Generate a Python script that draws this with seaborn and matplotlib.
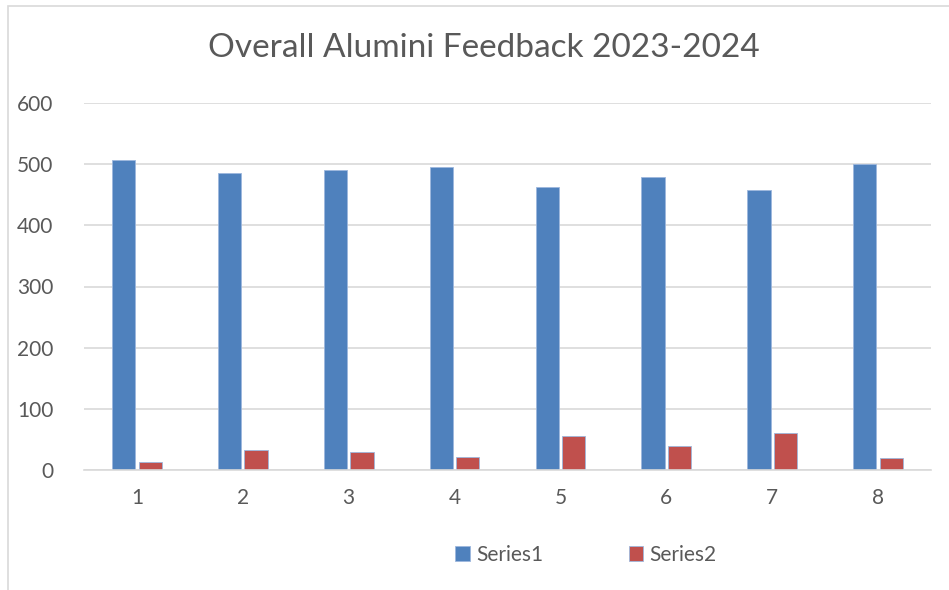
import pandas as pd
import matplotlib.pyplot as plt
import seaborn as sns
from matplotlib.patches import Rectangle

# values
categories = ["1", "2", "3", "4", "5", "6", "7", "8"]
series1 = [506, 486, 490, 496, 463, 479, 458, 500]
series2 = [13, 32, 29, 22, 56, 39, 60, 19]
series_names = ["Series1", "Series2"]
y_ticks = [0, 100, 200, 300, 400, 500, 600]

data_frame = pd.DataFrame({
    "category": categories * 2,
    "value": series1 + series2,
    "series": [series_names[0]] * len(categories) + [series_names[1]] * len(categories),
})

sns.set_style("white")
plt.rcParams["font.family"] = ["Lato", "DejaVu Sans"]
text_grey = "#595959"

fig = plt.figure(figsize=(9.49, 5.9), dpi=100)
ax = fig.add_axes([84 / 949, 120 / 590, 847 / 949, 367 / 590])

sns.barplot(data=data_frame, x="category", y="value", hue="series",
            palette=["#4F81BD", "#C0504D"], saturation=1, width=0.5, gap=0.12,
            edgecolor="#9DB7DD", linewidth=0.6, ax=ax, legend=True)

ax.set_ylim(0, 600)
ax.set_yticks(y_ticks)
ax.yaxis.grid(True, color="#D9D9D9", linewidth=1.2)
ax.set_axisbelow(True)
for side in ["top", "right", "left"]:
    ax.spines[side].set_visible(False)
ax.spines["bottom"].set_color("#D9D9D9")
ax.spines["bottom"].set_linewidth(1.2)
ax.tick_params(axis="both", length=0, labelsize=15, labelcolor=text_grey)
ax.tick_params(axis="y", pad=22)
ax.tick_params(axis="x", pad=13)
ax.set_xlabel("")
ax.set_ylabel("")

fig.text(484 / 949, 1 - 48 / 590, "Overall Alumini Feedback 2023-2024",
         ha="center", va="center", fontsize=24, color=text_grey)

handles, labels = ax.get_legend_handles_labels()
ax.legend_.remove()
fig.legend(handles, labels, loc="center", bbox_to_anchor=(586 / 949, 35 / 590),
           ncol=2, frameon=False, fontsize=15, labelcolor=text_grey,
           handlelength=0.7, handleheight=0.7, handletextpad=0.3, columnspacing=4.1)

# light chart frame, only the top and left edges fall inside the picture
fig.patches.append(Rectangle((8 / 949, -0.1), 1.2, 1 - 6 / 590 + 0.1, transform=fig.transFigure,
                             fill=False, edgecolor="#D9D9D9", linewidth=1.2))

fig.savefig("out.png", dpi=100)
